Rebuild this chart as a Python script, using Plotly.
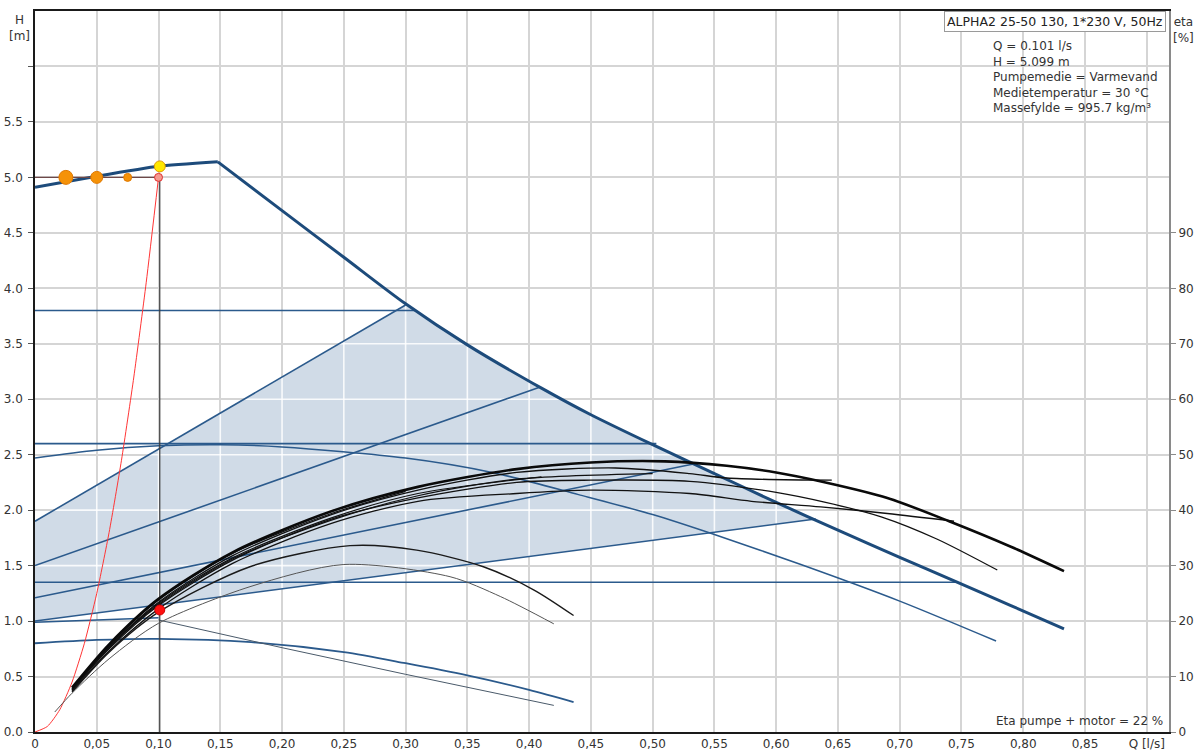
import numpy as np
import plotly.graph_objects as go

# ---------------- axis ticks ----------------
q_tick_vals = [0, 0.05, 0.10, 0.15, 0.20, 0.25, 0.30, 0.35, 0.40, 0.45,
               0.50, 0.55, 0.60, 0.65, 0.70, 0.75, 0.80, 0.85, 0.90]
q_tick_text = ["0", "0,05", "0,10", "0,15", "0,20", "0,25", "0,30", "0,35", "0,40", "0,45",
               "0,50", "0,55", "0,60", "0,65", "0,70", "0,75", "0,80", "0,85", "Q [l/s]"]
h_tick_vals = [0, 0.5, 1.0, 1.5, 2.0, 2.5, 3.0, 3.5, 4.0, 4.5, 5.0, 5.5, 6.0]
h_tick_text = ["0.0", "0.5", "1.0", "1.5", "2.0", "2.5", "3.0", "3.5", "4.0", "4.5", "5.0", "5.5", ""]
eta_tick_vals = [0, 10, 20, 30, 40, 50, 60, 70, 80, 90]

# ---------------- duty point ----------------
duty_q = 0.101
duty_h = 5.099
duty_eta = 22
setpoint_h = 5.0
setpoint_dots_q = [0.025, 0.05, 0.075, 0.10]
setpoint_dots_size = [14, 12, 8, 8]

# ---------------- pump curves (H in m) ----------------
# max curve: flat rising part up to the corner, then the falling part
max_rise_q = [0.0, 0.05, 0.10, 0.148]
max_rise_h = [4.91, 5.01, 5.10, 5.14]
max_fall_q = [0.148, 0.20, 0.25, 0.30, 0.35, 0.41, 0.45, 0.50, 0.55, 0.60, 0.65, 0.70, 0.745, 0.79, 0.833]
max_fall_h = [5.14, 4.70, 4.28, 3.86, 3.49, 3.10, 2.86, 2.59, 2.33, 2.07, 1.82, 1.575, 1.357, 1.14, 0.93]

# proportional pressure lines
pp1_q, pp1_h = [0.0, 0.300], [1.90, 3.85]
pp2_q, pp2_h = [0.0, 0.409], [1.50, 3.11]
pp3_q, pp3_h = [0.0, 0.535], [1.21, 2.42]
pp4_q, pp4_h = [0.0, 0.632], [1.00, 1.92]

# constant pressure lines
cp1_q, cp1_h = [0.0, 0.308], [3.80, 3.80]
cp2_q, cp2_h = [0.0, 0.503], [2.60, 2.60]
cp3_q, cp3_h = [0.0, 0.747], [1.35, 1.35]

# constant speed curves
csA_q = [0.0, 0.05, 0.10, 0.15, 0.20, 0.30, 0.37, 0.44, 0.50, 0.55, 0.62, 0.70, 0.778]
csA_h = [2.47, 2.54, 2.58, 2.59, 2.57, 2.47, 2.34, 2.14, 1.96, 1.78, 1.51, 1.18, 0.82]
csB_q = [0.0, 0.05, 0.10, 0.175, 0.25, 0.30, 0.35, 0.40, 0.436]
csB_h = [0.80, 0.83, 0.84, 0.81, 0.72, 0.62, 0.51, 0.38, 0.27]
csC_q = [0.0, 0.05, 0.10]
csC_h = [0.99, 1.01, 1.03]
csD_q = [0.10, 0.20, 0.30, 0.42]
csD_h = [1.01, 0.76, 0.52, 0.24]

# system curve
sys_q = [0.0, 0.01, 0.02, 0.03, 0.04, 0.05, 0.06, 0.07, 0.08, 0.09, 0.10]
sys_h = [0.0, 0.05, 0.20, 0.45, 0.80, 1.25, 1.80, 2.45, 3.20, 4.05, 5.00]

# ---------------- efficiency curves (eta in %) ----------------
e1_q = [0.03, 0.06, 0.10, 0.16, 0.24, 0.31, 0.39, 0.45, 0.51, 0.56, 0.60, 0.64, 0.69, 0.74, 0.79, 0.833]
e1_eta = [8.0, 15.8, 24.0, 32.4, 39.8, 44.2, 47.4, 48.6, 48.8, 48.0, 46.8, 45.0, 42.2, 38.0, 33.4, 29.0]
e2_q = [0.03, 0.06, 0.10, 0.16, 0.24, 0.31, 0.39, 0.47, 0.53, 0.56, 0.645]
e2_eta = [7.8, 15.4, 23.4, 31.8, 39.2, 43.6, 46.8, 47.6, 46.6, 45.8, 45.4]
e3_q = [0.03, 0.06, 0.10, 0.16, 0.24, 0.31, 0.39, 0.45, 0.53, 0.60, 0.64, 0.685, 0.73, 0.779]
e3_eta = [7.6, 15.0, 22.8, 31.0, 38.4, 42.2, 45.0, 45.4, 45.2, 43.2, 41.4, 38.8, 34.8, 29.2]
e4_q = [0.03, 0.06, 0.10, 0.16, 0.24, 0.31, 0.39, 0.45, 0.53, 0.58, 0.636, 0.69, 0.744]
e4_eta = [7.4, 14.6, 22.2, 30.4, 37.6, 41.6, 43.0, 43.6, 43.0, 41.6, 40.6, 39.4, 38.0]
e5_q = [0.03, 0.06, 0.10, 0.16, 0.24, 0.30]
e5_eta = [7.8, 15.6, 23.8, 32.2, 39.4, 43.4]
e6_q = [0.03, 0.06, 0.10, 0.16, 0.24, 0.31, 0.41]
e6_eta = [7.6, 15.2, 23.2, 31.4, 38.6, 43.0, 46.0]
e7_q = [0.03, 0.06, 0.10, 0.16, 0.24, 0.31, 0.39, 0.50]
e7_eta = [7.7, 15.3, 23.0, 31.2, 38.2, 42.6, 45.6, 46.6]
l1_q = [0.03, 0.06, 0.10, 0.174, 0.255, 0.309, 0.363, 0.404, 0.436]
l1_eta = [7.2, 14.4, 21.6, 29.8, 33.6, 32.8, 29.8, 25.6, 21.0]
l2_q = [0.016, 0.03, 0.06, 0.10, 0.174, 0.25, 0.336, 0.377, 0.42]
l2_eta = [3.6, 7.0, 13.2, 19.6, 26.2, 30.2, 28.0, 24.4, 19.5]

# ---------------- styling ----------------
FONT = "DejaVu Sans"
BLUE_DARK = "#1d4b7b"
BLUE = "#2b5a8c"
FILL = "#d0dbe7"
GRID = "#d5d5d5"

fig = go.Figure()

# AUTOADAPT area: bounded by the upper proportional line, the max curve and the lowest line
max_q = max_rise_q + max_fall_q[1:]
max_h = max_rise_h + max_fall_h[1:]
inside = [(q, h) for q, h in zip(max_q, max_h) if pp1_q[-1] < q < pp4_q[-1]]
upper_q = pp1_q + [q for q, _ in inside] + [pp4_q[-1]]
upper_h = pp1_h + [h for _, h in inside] + [pp4_h[-1]]
fill_q = upper_q + [pp4_q[0]]
fill_h = upper_h + [pp4_h[0]]
fig.add_trace(go.Scatter(x=fill_q, y=fill_h, fill="toself", fillcolor=FILL,
                         mode="none", hoverinfo="skip"))

# grid lines seen through the shaded area
gx, gy = [], []
for q in q_tick_vals:
    if 0 < q < pp4_q[-1]:
        gx += [q, q, None]
        gy += [float(np.interp(q, pp4_q, pp4_h)), float(np.interp(q, upper_q, upper_h)), None]
desc_q = upper_q[1:][::-1]
desc_h = upper_h[1:][::-1]
for h in h_tick_vals:
    if pp4_h[0] < h < max(upper_h):
        left = 0.0 if h <= pp1_h[0] else float(np.interp(h, pp1_h, pp1_q))
        if h <= pp4_h[-1]:
            right = float(np.interp(h, pp4_h, pp4_q))
        else:
            right = float(np.interp(h, desc_h, desc_q))
        gx += [left, right, None]
        gy += [h, h, None]
fig.add_trace(go.Scatter(x=gx, y=gy, mode="lines", hoverinfo="skip",
                         line=dict(color="rgba(255,255,255,0.85)", width=1.6)))

# blue setting lines
for xs, ys in [(cp1_q, cp1_h), (cp2_q, cp2_h), (cp3_q, cp3_h),
               (pp1_q, pp1_h), (pp2_q, pp2_h), (pp3_q, pp3_h), (pp4_q, pp4_h)]:
    fig.add_trace(go.Scatter(x=xs, y=ys, mode="lines", hoverinfo="skip",
                             line=dict(color=BLUE, width=1.6)))
for xs, ys, w in [(csA_q, csA_h, 1.5), (csB_q, csB_h, 1.8), (csC_q, csC_h, 1.6)]:
    fig.add_trace(go.Scatter(x=xs, y=ys, mode="lines", hoverinfo="skip",
                             line=dict(color=BLUE, width=w, shape="spline", smoothing=0.8)))
fig.add_trace(go.Scatter(x=csD_q, y=csD_h, mode="lines", hoverinfo="skip",
                         line=dict(color="#4a5a6a", width=1.0)))

# max curve
fig.add_trace(go.Scatter(x=max_rise_q, y=max_rise_h, mode="lines", hoverinfo="skip",
                         line=dict(color=BLUE_DARK, width=3.0, shape="spline", smoothing=0.5)))
fig.add_trace(go.Scatter(x=max_fall_q, y=max_fall_h, mode="lines", hoverinfo="skip",
                         line=dict(color=BLUE_DARK, width=3.0, shape="spline", smoothing=0.8)))

# duty point guide lines and system curve
fig.add_trace(go.Scatter(x=[duty_q, duty_q], y=[0, setpoint_h], mode="lines", hoverinfo="skip",
                         line=dict(color="#3c3c3c", width=1.2)))
fig.add_trace(go.Scatter(x=[0, setpoint_dots_q[-1]], y=[setpoint_h, setpoint_h], mode="lines",
                         hoverinfo="skip", line=dict(color="#6e4848", width=1.2)))
fig.add_trace(go.Scatter(x=sys_q, y=sys_h, mode="lines", hoverinfo="skip",
                         line=dict(color="#ff3535", width=1.0, shape="spline", smoothing=0.6)))

# set-point markers
fig.add_trace(go.Scatter(x=setpoint_dots_q[:3], y=[setpoint_h] * 3, mode="markers", hoverinfo="skip",
                         marker=dict(size=setpoint_dots_size[:3], color="#f59208", opacity=1,
                                     line=dict(color="#e07800", width=1))))
fig.add_trace(go.Scatter(x=setpoint_dots_q[3:], y=[setpoint_h], mode="markers", hoverinfo="skip",
                         marker=dict(size=setpoint_dots_size[3:], color="#f59a8f", opacity=1,
                                     line=dict(color="#e03030", width=1))))
fig.add_trace(go.Scatter(x=[duty_q], y=[duty_h], mode="markers", hoverinfo="skip",
                         marker=dict(size=11, color="#ffe800", opacity=1,
                                     line=dict(color="#e09a00", width=1))))

# efficiency curves on the right axis
eta_curves = [
    (e5_q, e5_eta, 1.2, "#111111"),
    (e6_q, e6_eta, 1.2, "#111111"),
    (e7_q, e7_eta, 1.2, "#111111"),
    (e4_q, e4_eta, 1.3, "#111111"),
    (e3_q, e3_eta, 1.3, "#111111"),
    (e2_q, e2_eta, 1.3, "#111111"),
    (l1_q, l1_eta, 1.4, "#1a1a1a"),
    (l2_q, l2_eta, 1.0, "#555555"),
    (e1_q, e1_eta, 2.6, "#0a0a0a"),
]
for xs, ys, w, c in eta_curves:
    fig.add_trace(go.Scatter(x=xs, y=ys, yaxis="y2", mode="lines", hoverinfo="skip",
                             line=dict(color=c, width=w, shape="spline", smoothing=0.8)))
fig.add_trace(go.Scatter(x=[duty_q], y=[duty_eta], yaxis="y2", mode="markers", hoverinfo="skip",
                         marker=dict(size=10, color="#ff1010", opacity=1,
                                     line=dict(color="#d00000", width=1))))

# ---------------- layout ----------------
fig.update_layout(
    width=1198, height=756,
    margin=dict(l=35, r=29, t=11, b=24, autoexpand=False),
    paper_bgcolor="white", plot_bgcolor="white",
    showlegend=False,
    font=dict(family=FONT, size=12, color="#333333"),
    xaxis=dict(range=[0, 0.918], tickvals=q_tick_vals, ticktext=q_tick_text, automargin=False,
               showgrid=True, gridcolor=GRID, gridwidth=1.6, zeroline=False,
               showline=True, linecolor="#1a1a1a", linewidth=2, mirror=True,
               ticks="", tickfont=dict(size=12, color="#333333")),
    yaxis=dict(range=[0, 6.5], tickvals=h_tick_vals, ticktext=h_tick_text, automargin=False,
               showgrid=True, gridcolor=GRID, gridwidth=1.6, zeroline=False,
               showline=True, linecolor="#1a1a1a", linewidth=1.6,
               ticks="outside", ticklen=5, tickcolor="#555555", ticklabelstandoff=3,
               tickfont=dict(size=12, color="#333333")),
    yaxis2=dict(range=[0, 130], overlaying="y", side="right", tickvals=eta_tick_vals,
                automargin=False,
                showgrid=False, zeroline=False, showline=True, linecolor="#8a8a8a", linewidth=2,
                ticks="outside", ticklen=5, tickcolor="#8a8a8a",
                tickfont=dict(size=12, color="#333333")),
)

info_lines = [
    f"Q = {duty_q:.3f} l/s",
    f"H = {duty_h:.3f} m",
    "Pumpemedie = Varmevand",
    "Medietemperatur = 30 °C",
    "Massefylde = 995.7 kg/m³",
]
annotations = [
    dict(text="H<br>[m]", xref="paper", yref="paper", x=-0.014, y=1.0, xanchor="center",
         yanchor="top", showarrow=False, align="center", font=dict(size=12, color="#333333")),
    dict(text="eta<br>[%]", xref="paper", yref="paper", x=1.0125, y=0.997, xanchor="center",
         yanchor="top", showarrow=False, align="center", font=dict(size=12, color="#333333")),
    dict(text="ALPHA2 25-50 130, 1*230 V, 50Hz", xref="paper", yref="paper", x=0.9975, y=1.0,
         xanchor="right", yanchor="top", showarrow=False, bgcolor="white",
         bordercolor="#9a9a9a", borderwidth=1, borderpad=2,
         font=dict(size=12.5, color="#222222")),
    dict(text="<br>".join(info_lines), xref="paper", yref="paper", x=0.843, y=0.964,
         xanchor="left", yanchor="top", showarrow=False, align="left",
         font=dict(size=12, color="#333333")),
    dict(text=f"Eta pumpe + motor = {duty_eta} %", xref="paper", yref="paper", x=0.9965, y=0.0,
         xanchor="right", yanchor="bottom", showarrow=False, align="right", yshift=2,
         font=dict(size=12, color="#333333")),
]
fig.update_layout(annotations=annotations)

fig.write_html("out.html")
